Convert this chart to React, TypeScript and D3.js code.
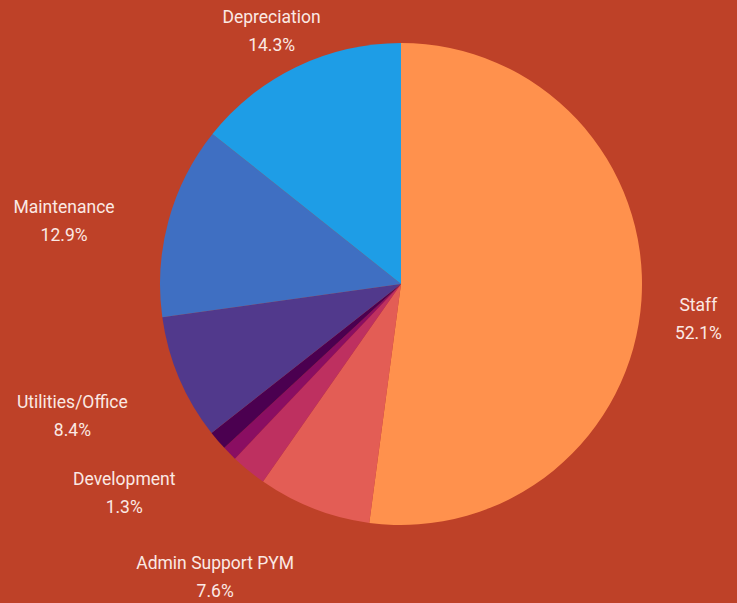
import React from "react";
import * as d3 from "d3";

const categories = [
  "Staff",
  "Admin Support PYM",
  "",
  "",
  "Development",
  "Utilities/Office",
  "Maintenance",
  "Depreciation",
];
const values = [52.1, 7.6, 2.4, 1.0, 1.3, 8.4, 12.9, 14.3];
const colors = [
  "#FF914D",
  "#E35D55",
  "#BE3060",
  "#8A0E62",
  "#4B0050",
  "#51398C",
  "#3F6FC2",
  "#1E9DE6",
];

const W = 737;
const H = 603;
const BG = "#BE4128";
const FONT = "Roboto, 'DejaVu Sans', sans-serif";
const FONT_SIZE = 17.5;

function measure(text: string): number {
  const c = document.createElement("canvas");
  const ctx = c.getContext("2d");
  if (!ctx) return text.length * FONT_SIZE * 0.5;
  ctx.font = `${FONT_SIZE}px ${FONT}`;
  return ctx.measureText(text).width;
}

export default function App() {
  const cx = 401;
  const cy = 284;
  const radius = 241;
  const labelR = 298;
  const lineGap = 28;

  const data = categories.map((name, i) => ({ name, value: values[i], color: colors[i] }));
  const pie = d3
    .pie<any>()
    .sort(null)
    .value((d: any) => d.value)
    .startAngle(0)
    .endAngle(2 * Math.PI);
  const arcs = pie(data);
  const arc = d3.arc<any>().innerRadius(0).outerRadius(radius);
  const fmt = d3.format(".1f");

  return (
    <svg
      width={W}
      height={H}
      style={{ position: "fixed", left: 0, top: 0, display: "block" }}
    >
      <rect x={0} y={0} width={W} height={H} fill={BG} />
      <g transform={`translate(${cx},${cy})`}>
        {arcs.map((a, i) => (
          <path key={i} d={arc(a) || ""} fill={a.data.color} />
        ))}
        {arcs.map((a, i) => {
          if (!a.data.name) return null;
          const mid = (a.startAngle + a.endAngle) / 2;
          const ux = Math.sin(mid);
          const uy = -Math.cos(mid);
          const ax = ux * labelR;
          const ay = uy * labelR + 1.5;
          const w = measure(a.data.name);
          const endAligned = ux < -0.3 && uy > -0.5;
          const x = endAligned ? ax + 1 - w / 2 : ax;
          return (
            <g key={"l" + i} fill="#FBE9E4" fontFamily={FONT} fontSize={FONT_SIZE} textAnchor="middle">
              <text x={x} y={ay} dominantBaseline="central">
                {a.data.name}
              </text>
              <text x={x} y={ay + lineGap} dominantBaseline="central">
                {fmt(a.data.value) + "%"}
              </text>
            </g>
          );
        })}
      </g>
    </svg>
  );
}
